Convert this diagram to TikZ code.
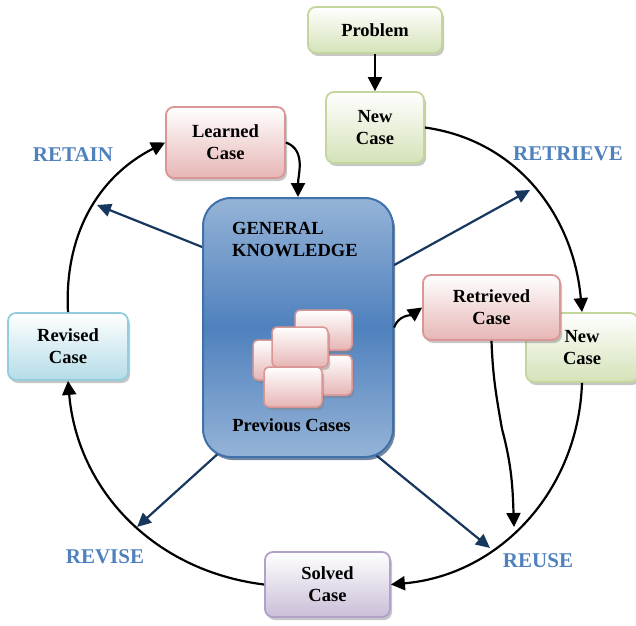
\documentclass[tikz,border=0pt]{standalone}
\usepackage{fontspec}
\setmainfont{Liberation Serif}
\usepackage{tikz,tkz-euclide}
\usetikzlibrary{arrows.meta,shadows,backgrounds,positioning,calc}
\usepackage{color}

\definecolor{phaseblue}{RGB}{79,129,189}
\definecolor{navy}{RGB}{23,55,94}
\definecolor{grnline}{RGB}{195,214,155}
\definecolor{grnfill}{RGB}{212,226,184}
\definecolor{redline}{RGB}{217,150,148}
\definecolor{redfill}{RGB}{230,182,181}
\definecolor{cyanline}{RGB}{147,205,221}
\definecolor{cyanfill}{RGB}{180,220,231}
\definecolor{purpline}{RGB}{178,161,199}
\definecolor{purpfill}{RGB}{202,190,216}
\definecolor{gkline}{RGB}{65,113,170}
\definecolor{gktop}{RGB}{149,179,215}
\definecolor{gkmid}{RGB}{79,129,189}

\tikzset{
  casebox/.style={draw, rounded corners=8pt, line width=1.8pt, align=center,
    font=\fontsize{18.5}{22}\selectfont\bfseries, inner sep=2pt,
    drop shadow={shadow xshift=2pt,shadow yshift=-3pt,opacity=.45}},
  greencase/.style={casebox, draw=grnline, top color=white, bottom color=grnfill},
  redcase/.style={casebox, draw=redline, top color=white, bottom color=redfill},
  cyancase/.style={casebox, draw=cyanline, top color=white, bottom color=cyanfill},
  purpcase/.style={casebox, draw=purpline, top color=white, bottom color=purpfill},
  minicase/.style={redcase, rounded corners=5pt, line width=1.5pt,
    minimum height=40pt},
  flow/.style={line width=2.2pt, -{Triangle[length=14pt,width=14pt]}},
  know/.style={line width=2.2pt, draw=navy, shorten <=-12pt,
    -{Triangle[length=14pt,width=13pt]}},
  phase/.style={text=phaseblue, font=\fontsize{21}{24}\selectfont\bfseries},
  gktext/.style={font=\fontsize{18.5}{22}\selectfont\bfseries, inner sep=0pt}
}

\begin{document}
\begin{tikzpicture}[x=1pt,y=1pt]%[scale=0.9]
  \useasboundingbox (0,0) rectangle (636,625);
  \clip (0,0) rectangle (636,625);
  \tkzDefPoints{97/420/retA, 530/435/retB, 137/98/revA, 490/77/reuA, 514/98/reuB, 502/196/kink}

  % case boxes
  \node[greencase, minimum width=134pt, minimum height=46pt] (prob) at (375,595) {Problem};
  \node[greencase, minimum width=98pt, minimum height=71pt] (newA) at (375,497.5) {New\\Case};
  \node[redcase, minimum width=119pt, minimum height=71pt] (learn) at (225.5,482.5) {Learned\\Case};
  \node[greencase, minimum width=112pt, minimum height=69pt] (newB) at (582,277.5) {New\\Case};
  \node[redcase, minimum width=137pt, minimum height=65pt] (retr) at (491.5,317.5) {Retrieved\\Case};
  \node[cyancase, minimum width=120pt, minimum height=67pt] (revd) at (68,278.5) {Revised\\Case};
  \node[purpcase, minimum width=125pt, minimum height=65pt] (solv) at (327.5,40.5) {Solved\\Case};

  % knowledge base
  \node[draw=gkline, line width=2pt, rounded corners=28pt, minimum width=190pt,
    minimum height=259pt, top color=gktop, bottom color=gktop, middle color=gkmid,
    drop shadow={shadow xshift=2pt,shadow yshift=-3pt,opacity=.6,fill=navy}] (gk) at (298,297.5) {};
  \node[gktext, anchor=west, align=left] (gkname) at (232,385) {GENERAL\\KNOWLEDGE};
  \foreach \x/\y/\w [count=\i] in {323.5/295/57, 323.5/250/57, 281.5/265/57, 300/278/56, 293/238/58}
    \node[minicase, minimum width=\w pt] (pc\i) at (\x,\y) {};
  \node[gktext] (prev) at (291.5,200) {Previous Cases};

  % phase labels
  \node[phase] (lretain) at (73,470) {RETAIN};
  \node[phase] (lretrieve) at (568,471) {RETRIEVE};
  \node[phase] (lrevise) at (105,68) {REVISE};
  \node[phase] (lreuse) at (538,64) {REUSE};

  % cycle
  \draw[flow] (prob) -- (newA);
  \draw[flow] (newA.east) to[out=-8,in=95] (newB.north);
  \draw[flow] (newB.south) to[out=-92,in=5] (solv.east);
  \draw[flow] (retr.south) to[out=-88,in=100] (kink) to[out=-75,in=92] (reuB);
  \draw[flow] (solv.west) to[out=173,in=-85] (revd.south);
  \draw[flow] (revd.north) to[out=93,in=207] (learn.west);
  \draw[flow] (learn.east) to[out=-20,in=90] (gk.north);
  \draw[flow] (gk.east) to[out=70,in=215] (retr.west);

  \begin{scope}[on background layer]
   \draw[know] (gk.140) -- (retA);
   \draw[know] (gk.33) -- (retB);
   \draw[know] (gk.237) -- (revA);
   \draw[know] (gk.-58) -- (reuA);
  \end{scope}
 \end{tikzpicture}
\end{document}
